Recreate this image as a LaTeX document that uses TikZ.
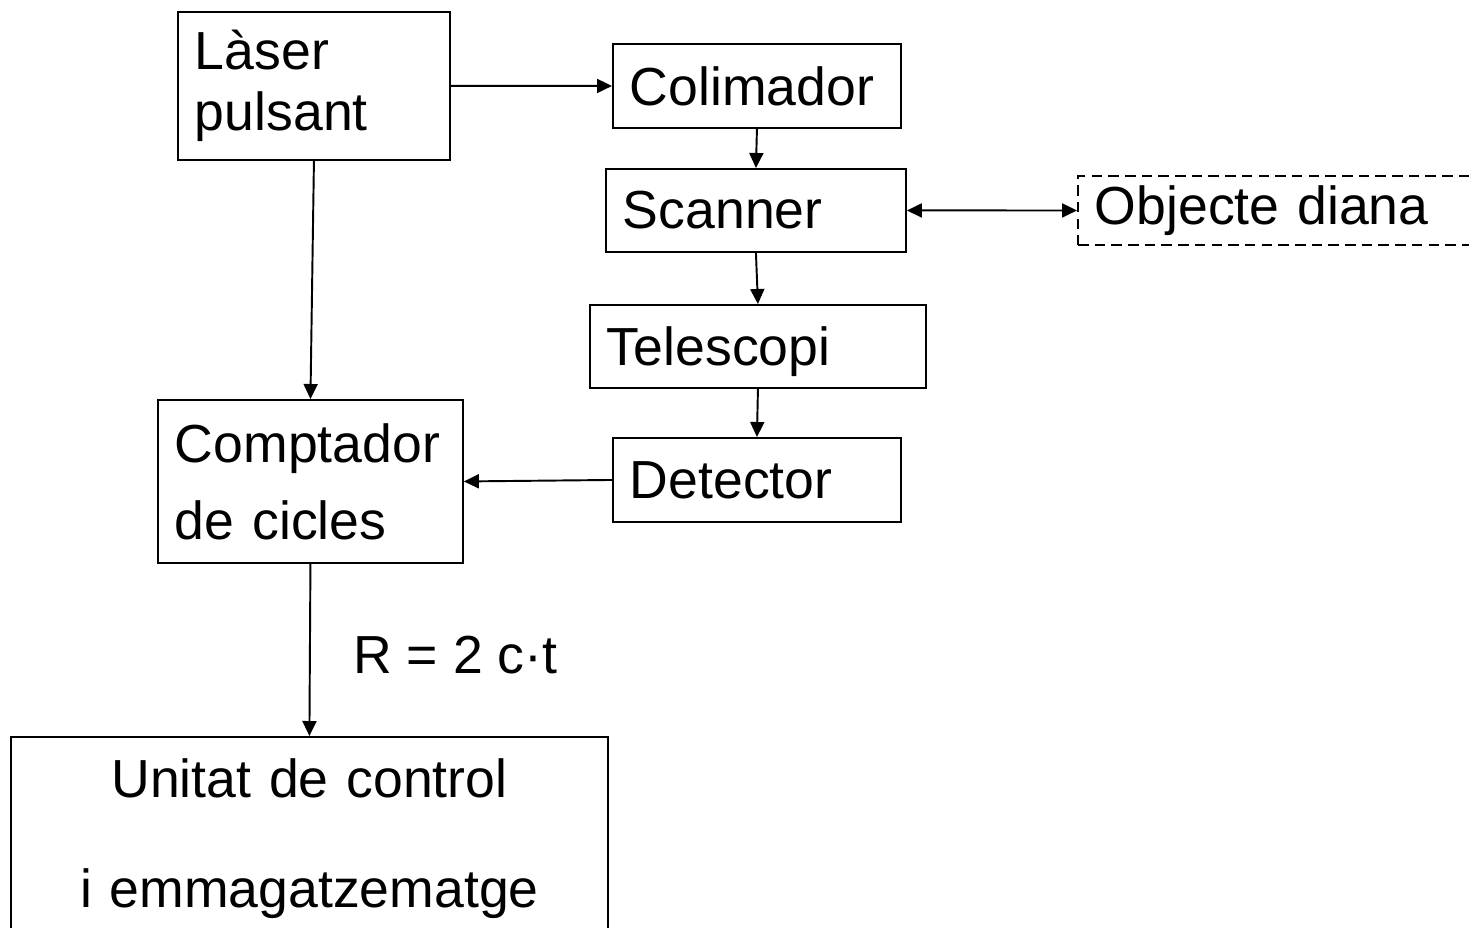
\documentclass[tikz,border=0pt]{standalone}
\usepackage{fontspec}
\setmainfont{Liberation Sans}
\usetikzlibrary{arrows.meta}
\tikzset{
  bloc/.style={draw, line width=1.1pt, anchor=north west, inner xsep=0.34cm,
    inner ysep=0pt, align=left, font=\fontsize{30.5}{36}\selectfont},
  fleche/.style={line width=1.1pt, -{Triangle[length=0.3cm,width=0.28cm]}},
}
\begin{document}
\begin{tikzpicture}[x=0.02cm,y=-0.02cm]
%					Cadre :
					\useasboundingbox (0,0) rectangle (1469,927);
					\clip (0,0) rectangle (1469,927);
%					Tracé des blocs :
					\node[bloc, minimum width=5.44cm, text width=4.76cm, minimum height=2.96cm,
					  font=\fontsize{30.5}{34.7}\selectfont] (laser) at (177,11) {Làser\\pulsant};
					\node[bloc, minimum width=5.76cm, text width=5.08cm, minimum height=1.68cm] (colim) at (612,43) {Colimador};
					\node[bloc, minimum width=6cm, text width=5.32cm, minimum height=1.66cm] (scanner) at (605,168) {Scanner};
					\node[bloc, dash pattern=on 6pt off 3.5pt, minimum width=8.4cm, text width=7.72cm,
					  minimum height=1.38cm] (diana) at (1077,175) {Objecte diana};
					\node[bloc, text depth=0pt, minimum width=6.72cm, text width=6.04cm, minimum height=1.66cm] (telesc) at (589,304) {Telescopi};
					\node[bloc, minimum width=5.76cm, text width=5.08cm, minimum height=1.68cm] (detect) at (612,437) {Detector};
					\node[bloc, minimum width=6.1cm, text width=5.42cm, minimum height=3.26cm,
					  font=\fontsize{30.5}{43.8}\selectfont] (compt) at (157,399) {Comptador\\de cicles};
					\node[bloc, align=center, minimum width=11.94cm, text width=11.26cm, minimum height=4.08cm,
					  font=\fontsize{30.5}{62.6}\selectfont] (unitat) at (10,736) {Unitat de control\\i emmagatzematge};
%					Tracé des flèches :
					\draw[fleche] (laser.east) -- (colim.west);
					\draw[fleche] (colim.south) -- (scanner.north);
					\draw[fleche] (scanner.south) -- (telesc.north);
					\draw[fleche] (telesc.south) -- (detect.north);
					\draw[fleche, {Triangle[length=0.3cm,width=0.28cm]}-{Triangle[length=0.3cm,width=0.28cm]}] (scanner.east) -- (diana.west);
					\draw[fleche] (detect.west) -- (compt.east);
					\draw[fleche] (laser.south) -- (compt.north);
					\draw[fleche] (compt.south) -- (unitat.north);
					\node[anchor=base west, inner sep=0pt, font=\fontsize{30.5}{36}\selectfont] (rel) at (353,673) {R = 2 c·t};
\end{tikzpicture}
\end{document}
